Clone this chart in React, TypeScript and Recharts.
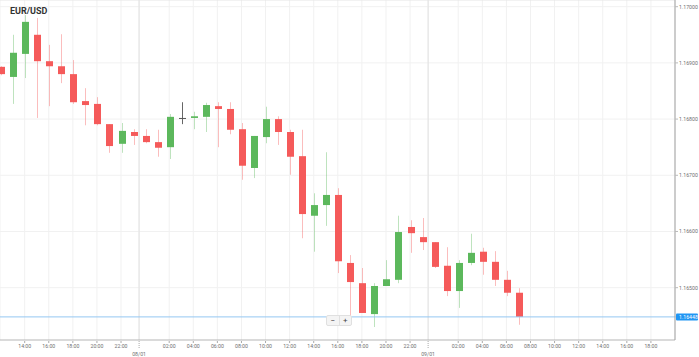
import { ComposedChart, Bar, XAxis, YAxis, CartesianGrid, ReferenceLine } from 'recharts'

const FONT = 'Roboto, "Open Sans", sans-serif'
const UP = '#5cb85c'
const DOWN = '#f55a5a'
const FLAT = '#555555'
const TICK = '#6f6f6f'

// hourly candles, 12:00 day 1 -> 07:00 day 3
const opens = [1.16893, 1.16875, 1.16916, 1.1695, 1.16903, 1.16894, 1.1688, 1.16832, 1.16827, 1.16791, 1.16756, 1.16777, 1.1677, 1.16759, 1.1675, 1.16802, 1.16802, 1.16804, 1.16823, 1.16818, 1.16782, 1.16713, 1.16768, 1.168, 1.16777, 1.16734, 1.16628, 1.16647, 1.16665, 1.16544, 1.16508, 1.16453, 1.16503, 1.16514, 1.16608, 1.1659, 1.16581, 1.16539, 1.16494, 1.16544, 1.16564, 1.16546, 1.16514, 1.16491]
const closes = [1.1688, 1.16918, 1.16973, 1.16903, 1.16894, 1.1688, 1.1683, 1.16825, 1.16791, 1.16752, 1.16779, 1.1677, 1.16759, 1.16749, 1.16804, 1.16802, 1.16805, 1.16825, 1.16818, 1.16781, 1.16717, 1.1677, 1.168, 1.16777, 1.16733, 1.16631, 1.16647, 1.16665, 1.16547, 1.1651, 1.16455, 1.16503, 1.16515, 1.16599, 1.16597, 1.16581, 1.16537, 1.16494, 1.16544, 1.16562, 1.16546, 1.16514, 1.16491, 1.16448]
const highs = [1.16894, 1.1695, 1.16985, 1.1698, 1.16932, 1.16951, 1.16905, 1.16855, 1.16839, 1.16791, 1.16793, 1.16782, 1.16782, 1.16781, 1.16809, 1.1683, 1.16813, 1.16829, 1.1683, 1.1683, 1.16793, 1.1677, 1.16822, 1.16805, 1.16781, 1.16781, 1.16668, 1.16741, 1.16677, 1.16558, 1.16535, 1.16508, 1.16549, 1.16628, 1.1662, 1.16624, 1.16581, 1.16572, 1.16549, 1.16596, 1.16571, 1.16565, 1.1653, 1.16499]
const lows = [1.16878, 1.16827, 1.16873, 1.16802, 1.16823, 1.16864, 1.16827, 1.16789, 1.16789, 1.1674, 1.1674, 1.16754, 1.16757, 1.16733, 1.16729, 1.16791, 1.16782, 1.16777, 1.1675, 1.16773, 1.16692, 1.16695, 1.16757, 1.16754, 1.16701, 1.16588, 1.16564, 1.1661, 1.16526, 1.16439, 1.16455, 1.1643, 1.16503, 1.16508, 1.16562, 1.16567, 1.16535, 1.16485, 1.16464, 1.1654, 1.16523, 1.16503, 1.16485, 1.16434]

const xTicks = [2, 4, 6, 8, 10, 11.5, 14, 16, 18, 20, 22, 24, 26, 28, 30, 32, 34, 35.5, 38, 40, 42, 44, 46, 48, 50, 52, 54]
const xLabels = ['14:00', '16:00', '18:00', '20:00', '22:00', '08/01', '02:00', '04:00', '06:00', '08:00', '10:00', '12:00', '14:00', '16:00', '18:00', '20:00', '22:00', '09/01', '02:00', '04:00', '06:00', '08:00', '10:00', '12:00', '14:00', '16:00', '18:00']
const dateTicks = [11.5, 35.5]
const yTicks = [1.165, 1.166, 1.167, 1.168, 1.169, 1.17]
const lastPrice = 1.16448

const Y_MIN = 1.164069
const Y_MAX = 1.170119

const data = opens.map((open, i) => ({
  i,
  open,
  close: closes[i],
  high: highs[i],
  low: lows[i],
}))

function Candle(props: any) {
  const { x, y, width, height, payload } = props
  if (x == null || !payload) return null
  const { open, close, high, low } = payload
  const top = Math.min(y, y + height)
  const span = Math.abs(height)
  const k = span / (high - low)
  const py = (v: number) => top + (high - v) * k
  const cx = Math.round(x + width / 2) + 0.5
  const flat = open === close
  const color = close > open ? UP : close < open ? DOWN : FLAT
  const bTop = py(Math.max(open, close))
  const bH = Math.max(1, py(Math.min(open, close)) - bTop)
  const bw = 7
  return (
    <g>
      <line x1={cx} x2={cx} y1={top} y2={top + span} stroke={color} strokeOpacity={flat ? 0.9 : 0.4} />
      <rect x={cx - bw / 2} y={bTop} width={bw} height={bH} fill={color} />
    </g>
  )
}

function TimeTick({ x, y, payload }: any) {
  const idx = xTicks.indexOf(payload.value)
  const label = xLabels[idx] ?? ''
  const isDate = dateTicks.includes(payload.value)
  return (
    <g>
      <line x1={x} x2={x} y1={y + 1} y2={isDate ? y + 9 : y + 3} stroke="#aaa" strokeDasharray={isDate ? '1 1' : undefined} />
      <text x={x} y={isDate ? y + 16 : y + 8} textAnchor="middle" fontSize={5.2} fill={TICK} fontFamily={FONT}>
        {label}
      </text>
    </g>
  )
}

function PriceTick({ x, y, payload }: any) {
  if (payload.value === lastPrice) {
    return (
      <g>
        <rect x={x - 3} y={y - 3.5} width={22} height={7} rx={1} fill="#2196f3" />
        <text x={x} y={y + 2} fontSize={5.2} fill="#fff" fontFamily={FONT}>
          {payload.value.toFixed(5)}
        </text>
      </g>
    )
  }
  return (
    <text x={x} y={y + 2} fontSize={5.2} fill={TICK} fontFamily={FONT}>
      {payload.value.toFixed(5)}
    </text>
  )
}

export default function App() {
  return (
    <div style={{ position: 'absolute', left: 0, top: 0, width: 699, height: 357, background: '#fff', fontFamily: FONT }}>
      <ComposedChart width={699} height={357} data={data} margin={{ top: 0, right: 0, bottom: 0, left: 0 }}>
        <CartesianGrid stroke="#f1f1f1" horizontalValues={yTicks} />
        <XAxis
          dataKey="i"
          type="number"
          domain={[-0.05, 56]}
          allowDataOverflow
          ticks={xTicks}
          interval={0}
          tick={<TimeTick />}
          tickSize={0}
          tickMargin={0}
          tickLine={false}
          axisLine={{ stroke: '#b5b5b5' }}
          height={17}
        />
        <YAxis
          orientation="right"
          type="number"
          domain={[Y_MIN, Y_MAX]}
          allowDataOverflow
          ticks={[...yTicks, lastPrice]}
          interval={0}
          tick={<PriceTick />}
          tickSize={3}
          tickMargin={1}
          tickLine={{ stroke: '#bbb' }}
          axisLine={{ stroke: '#a0a0a0' }}
          width={24}
        />
        {dateTicks.map((d) => (
          <ReferenceLine key={d} x={d} stroke="#e2e2e2" />
        ))}
        <ReferenceLine y={Y_MAX} stroke="#e6e6e6" />
        <Bar dataKey={(d: any) => [d.low, d.high]} shape={<Candle />} barSize={7} isAnimationActive={false} />
        <ReferenceLine y={lastPrice} stroke="#95c8f2" />
      </ComposedChart>
      <div style={{ position: 'absolute', left: 10, top: 6, fontSize: 9, fontWeight: 700, color: '#333' }}>EUR/USD</div>
      <div
        style={{
          position: 'absolute',
          left: 326,
          top: 315,
          width: 24,
          height: 9,
          display: 'flex',
          background: '#f4f4f4',
          border: '1px solid #e0e0e0',
          borderRadius: 2,
          fontSize: 8,
          lineHeight: '9px',
          color: '#444',
        }}
      >
        <span style={{ flex: 1, textAlign: 'center', borderRight: '1px solid #e0e0e0' }}>−</span>
        <span style={{ flex: 1, textAlign: 'center' }}>+</span>
      </div>
    </div>
  )
}
